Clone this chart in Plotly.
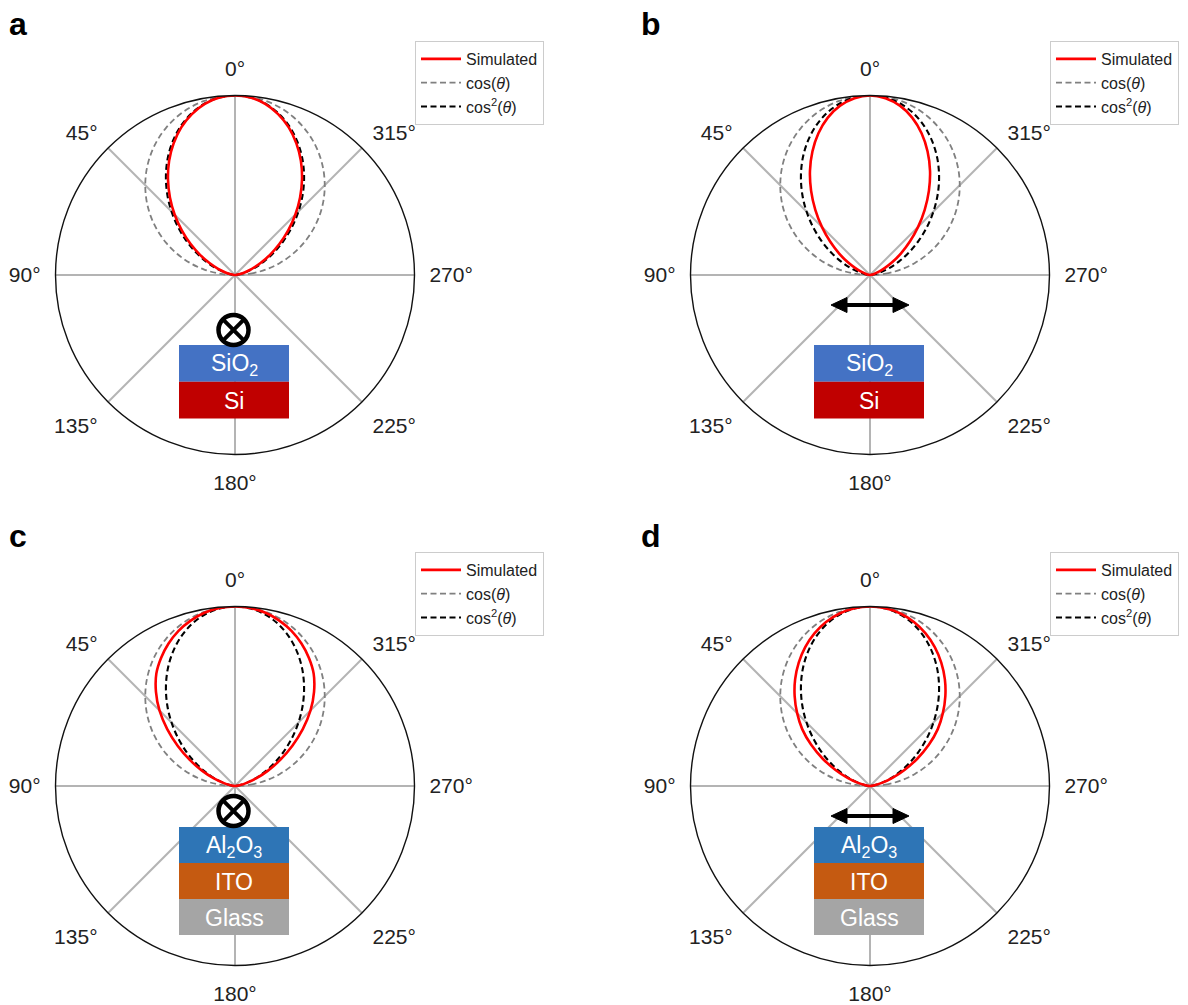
import plotly.graph_objects as go

# Polar emission profiles, sampled every 5 degrees from the surface normal
ANGLES = [0, 5, 10, 15, 20, 25, 30, 35, 40, 45, 50, 55, 60, 65, 70, 75, 80, 85, 90]
COS = [1.000, 0.996, 0.985, 0.966, 0.940, 0.906, 0.866, 0.819, 0.766, 0.707,
       0.643, 0.574, 0.500, 0.423, 0.342, 0.259, 0.174, 0.087, 0.000]
COS2 = [1.000, 0.992, 0.970, 0.933, 0.883, 0.821, 0.750, 0.671, 0.587, 0.500,
        0.413, 0.329, 0.250, 0.179, 0.117, 0.067, 0.030, 0.008, 0.000]
SIM_A = [1.000, 0.992, 0.968, 0.928, 0.875, 0.809, 0.734, 0.651, 0.564, 0.475,
         0.387, 0.303, 0.225, 0.157, 0.100, 0.055, 0.023, 0.005, 0.000]
SIM_B = [1.000, 0.989, 0.958, 0.908, 0.840, 0.759, 0.669, 0.572, 0.474, 0.379,
         0.290, 0.211, 0.144, 0.090, 0.050, 0.023, 0.007, 0.001, 0.000]
SIM_C = [1.000, 0.995, 0.980, 0.954, 0.920, 0.876, 0.824, 0.764, 0.685, 0.595,
         0.493, 0.389, 0.291, 0.203, 0.128, 0.067, 0.030, 0.008, 0.000]
SIM_D = [1.000, 0.994, 0.976, 0.946, 0.905, 0.854, 0.794, 0.727, 0.653, 0.574,
         0.493, 0.400, 0.304, 0.212, 0.133, 0.072, 0.030, 0.008, 0.000]

TICK_VALS = [0, 45, 90, 135, 180, 225, 270, 315]
TICK_TEXT = ["0°", "45°", "90°", "135°", "180°", "225°", "270°", "315°"]
PANEL_LABELS = ["a", "b", "c", "d"]
LEGEND_NAMES = ["Simulated", "cos(<i>θ</i>)", "cos<sup>2</sup>(<i>θ</i>)"]

W, H = 1188, 1005
FONT = "Arial, 'Liberation Sans', sans-serif"


def fx(x):
    return x / W


def fy(y):
    return 1 - y / H


def mirror(theta, r):
    # profiles are symmetric about the normal
    th = [-a for a in reversed(theta[1:])] + list(theta)
    rr = list(reversed(r[1:])) + list(r)
    return th, rr


fig = go.Figure()

R = 179.5
centers = [(235, 275), (870, 275), (235, 786), (870, 786)]
sims = [SIM_A, SIM_B, SIM_C, SIM_D]
polar_names = ["polar", "polar2", "polar3", "polar4"]
legend_names = ["legend", "legend2", "legend3", "legend4"]

for i, ((cx, cy), sim) in enumerate(zip(centers, sims)):
    sub = polar_names[i]
    leg = legend_names[i]
    th, rc = mirror(ANGLES, COS)
    fig.add_trace(go.Scatterpolar(
        theta=th, r=rc, mode="lines", name=LEGEND_NAMES[1], subplot=sub, legend=leg,
        legendrank=2, line=dict(color="#808080", width=1.8, dash="6px,3.5px", shape="spline")))
    th, rc2 = mirror(ANGLES, COS2)
    fig.add_trace(go.Scatterpolar(
        theta=th, r=rc2, mode="lines", name=LEGEND_NAMES[2], subplot=sub, legend=leg,
        legendrank=3, line=dict(color="#000000", width=2.1, dash="6px,3.5px", shape="spline")))
    th, rs = mirror(ANGLES, sim)
    fig.add_trace(go.Scatterpolar(
        theta=th, r=rs, mode="lines", name=LEGEND_NAMES[0], subplot=sub, legend=leg,
        legendrank=1, line=dict(color="#ff0000", width=2.6, shape="spline")))

    polar = dict(
        domain=dict(x=[fx(cx - R), fx(cx + R)], y=[fy(cy + R), fy(cy - R)]),
        bgcolor="white",
        radialaxis=dict(visible=False, range=[0, 1]),
        angularaxis=dict(
            rotation=90, direction="counterclockwise",
            tickmode="array", tickvals=TICK_VALS, ticktext=TICK_TEXT,
            tickfont=dict(size=21, color="#222222", family=FONT),
            ticks="outside", ticklen=10, tickcolor="rgba(0,0,0,0)",
            showline=True, linecolor="#111111", linewidth=1.4,
            showgrid=True, gridcolor="#b4b4b4", gridwidth=1.5,
        ),
    )
    fig.layout[sub] = polar

    lx = cx + 180
    ly = cy - 234
    fig.layout[leg] = dict(
        x=fx(lx), y=fy(ly), xanchor="left", yanchor="top",
        bgcolor="white", bordercolor="#cccccc", borderwidth=1,
        font=dict(size=16, color="#222222", family=FONT),
        traceorder="normal", itemwidth=40,
    )

shapes = []
annotations = []


def rect(x0, y0, x1, y1, color):
    shapes.append(dict(type="rect", xref="paper", yref="paper",
                       x0=fx(x0), x1=fx(x1), y0=fy(y1), y1=fy(y0),
                       fillcolor=color, line=dict(width=0), layer="above"))


def label(x, y, text, size=23, color="white", bold=False):
    annotations.append(dict(x=fx(x), y=fy(y), xref="paper", yref="paper",
                            text=f"<b>{text}</b>" if bold else text, showarrow=False,
                            font=dict(size=size, color=color, family=FONT),
                            xanchor="center", yanchor="middle"))


def otimes(x, y, r=15):
    shapes.append(dict(type="circle", xref="paper", yref="paper",
                       x0=fx(x - r), x1=fx(x + r), y0=fy(y + r), y1=fy(y - r),
                       fillcolor="white", line=dict(color="black", width=4.5), layer="above"))
    d = r * 0.72
    for sx in (-1, 1):
        shapes.append(dict(type="line", xref="paper", yref="paper",
                           x0=fx(x - d), x1=fx(x + d), y0=fy(y - sx * d), y1=fy(y + sx * d),
                           line=dict(color="black", width=4), layer="above"))


def double_arrow(xl, xr, y, head=16, half=7.5):
    shapes.append(dict(type="line", xref="paper", yref="paper",
                       x0=fx(xl + head - 2), x1=fx(xr - head + 2), y0=fy(y), y1=fy(y),
                       line=dict(color="black", width=4), layer="above"))
    for tip, base in ((xl, xl + head), (xr, xr - head)):
        path = (f"M {fx(tip)} {fy(y)} L {fx(base)} {fy(y - half)} "
                f"L {fx(base)} {fy(y + half)} Z")
        shapes.append(dict(type="path", xref="paper", yref="paper", path=path,
                           fillcolor="black", line=dict(color="black", width=1), layer="above"))


# substrate sketches
for i, (cx, cy) in enumerate(centers):
    x0, x1 = cx - 56, cx + 54
    if i < 2:
        layers = [("SiO<sub>2</sub>", "#4472c4"), ("Si", "#c00000")]
        top = cy + 70
        hgt = 36.7
    else:
        layers = [("Al<sub>2</sub>O<sub>3</sub>", "#2e75b6"), ("ITO", "#c55a11"),
                  ("Glass", "#a5a5a5")]
        top = cy + 41
        hgt = 36
    for k, (txt, col) in enumerate(layers):
        y0 = top + k * hgt
        rect(x0, y0, x1, y0 + hgt, col)
        label((x0 + x1) / 2, y0 + hgt / 2 + 1, txt)
    if i == 0:
        otimes(cx - 1.5, cy + 55)
    elif i == 2:
        otimes(cx - 1.5, cy + 25)
    else:
        double_arrow(cx - 39, cx + 39, cy + 30)

# panel letters
for letter, (x, y) in zip(PANEL_LABELS, [(18, 24), (651, 24), (18, 536), (651, 536)]):
    label(x, y, letter, size=32, color="black", bold=True)

fig.update_layout(
    width=W, height=H,
    margin=dict(l=0, r=0, t=0, b=0),
    paper_bgcolor="white",
    font=dict(family=FONT),
    showlegend=True,
    shapes=shapes,
    annotations=annotations,
)

fig.write_html("out.html")
